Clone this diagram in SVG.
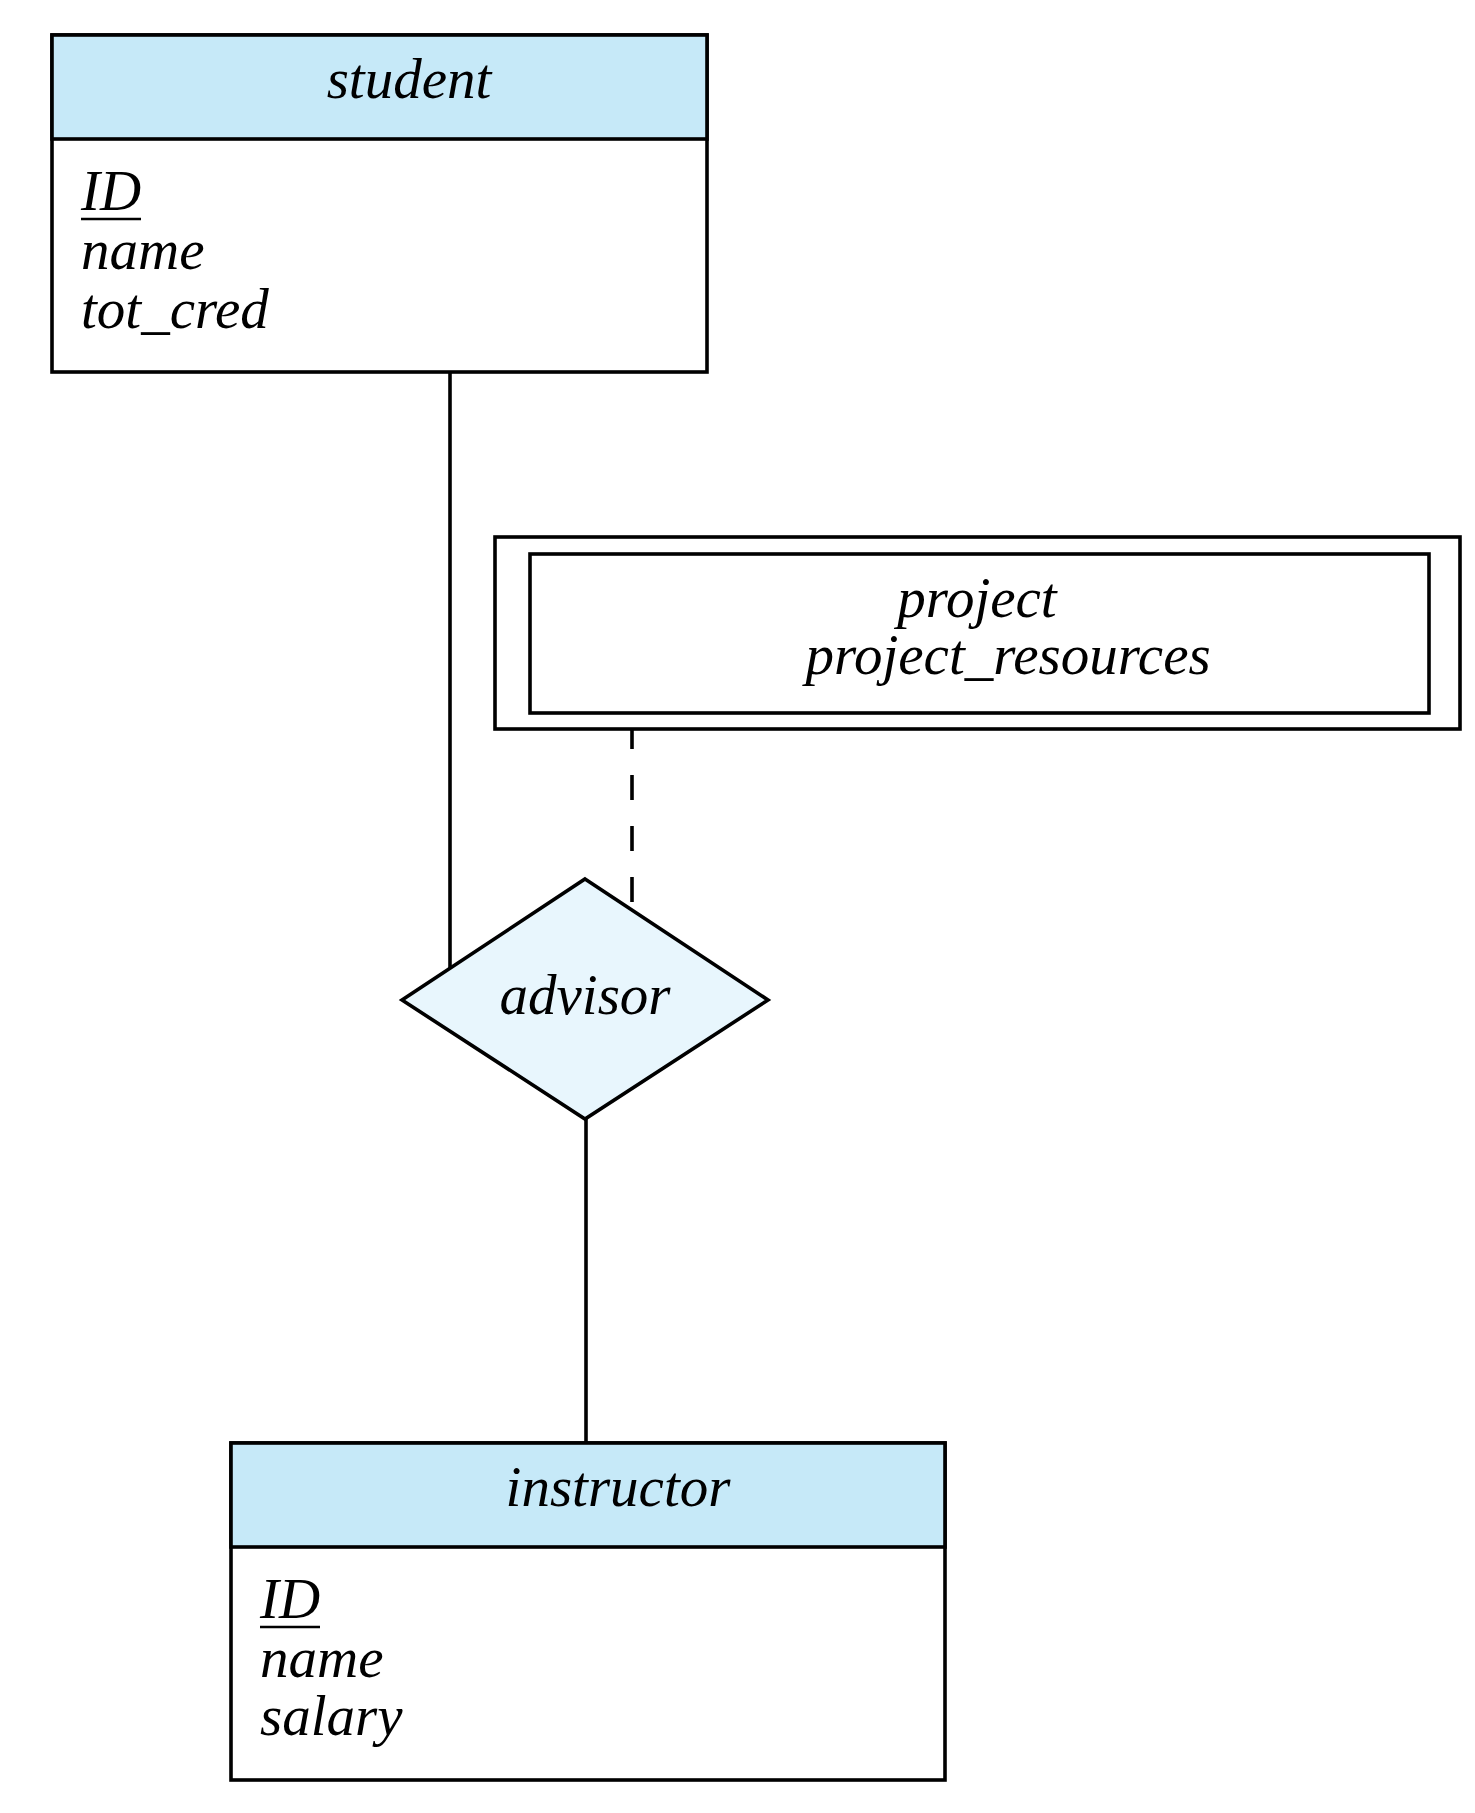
<svg xmlns="http://www.w3.org/2000/svg" width="1475" height="1813" viewBox="0 0 1475 1813">
  <style>
    .box { fill: #ffffff; stroke: #000000; stroke-width: 3.6; }
    .head { fill: #c6e9f8; stroke: #000000; stroke-width: 3.6; }
    .rel { fill: #e8f6fd; stroke: #000000; stroke-width: 3.6; stroke-linejoin: miter; }
    .edge { stroke: #000000; stroke-width: 3.6; fill: none; }
    .dash { stroke-dasharray: 25 26; stroke-dashoffset: 5; }
    .uline { stroke: #000000; stroke-width: 2.6; }
    text { font-family: "Liberation Serif", "Times New Roman", serif; font-style: italic; font-size: 57px; fill: #000000; }
    .mid { text-anchor: middle; }
  </style>

  <!-- connectors -->
  <g id="connectors">
    <line class="edge" x1="450" y1="372" x2="450" y2="969"/>
    <line class="edge dash" x1="632" y1="729" x2="632" y2="902"/>
    <line class="edge" x1="586" y1="1119" x2="586" y2="1443"/>
  </g>

  <!-- entity: student -->
  <g id="student">
    <rect class="box" x="52" y="35" width="655" height="337"/>
    <rect class="head" x="52" y="35" width="655" height="104"/>
    <text class="mid" x="409" y="98">student</text>
    <text x="81" y="210">ID</text>
    <line class="uline" x1="81" y1="219" x2="141" y2="219"/>
    <text x="81" y="269">name</text>
    <text x="81" y="328">tot_cred</text>
  </g>

  <!-- weak entity: project -->
  <g id="project">
    <rect class="box" x="495" y="537" width="965" height="192"/>
    <rect class="box" x="530" y="554" width="899" height="159"/>
    <text class="mid" x="977" y="617">project</text>
    <text class="mid" x="1008" y="674">project_resources</text>
  </g>

  <!-- relationship: advisor -->
  <g id="advisor">
    <polygon class="rel" points="585,879 768,1000 585,1119 402,1000"/>
    <text class="mid" x="585" y="1014">advisor</text>
  </g>

  <!-- entity: instructor -->
  <g id="instructor">
    <rect class="box" x="231" y="1443" width="714" height="337"/>
    <rect class="head" x="231" y="1443" width="714" height="104"/>
    <text class="mid" x="618" y="1506">instructor</text>
    <text x="260" y="1618">ID</text>
    <line class="uline" x1="260" y1="1627" x2="320" y2="1627"/>
    <text x="260" y="1677">name</text>
    <text x="260" y="1735">salary</text>
  </g>
</svg>
